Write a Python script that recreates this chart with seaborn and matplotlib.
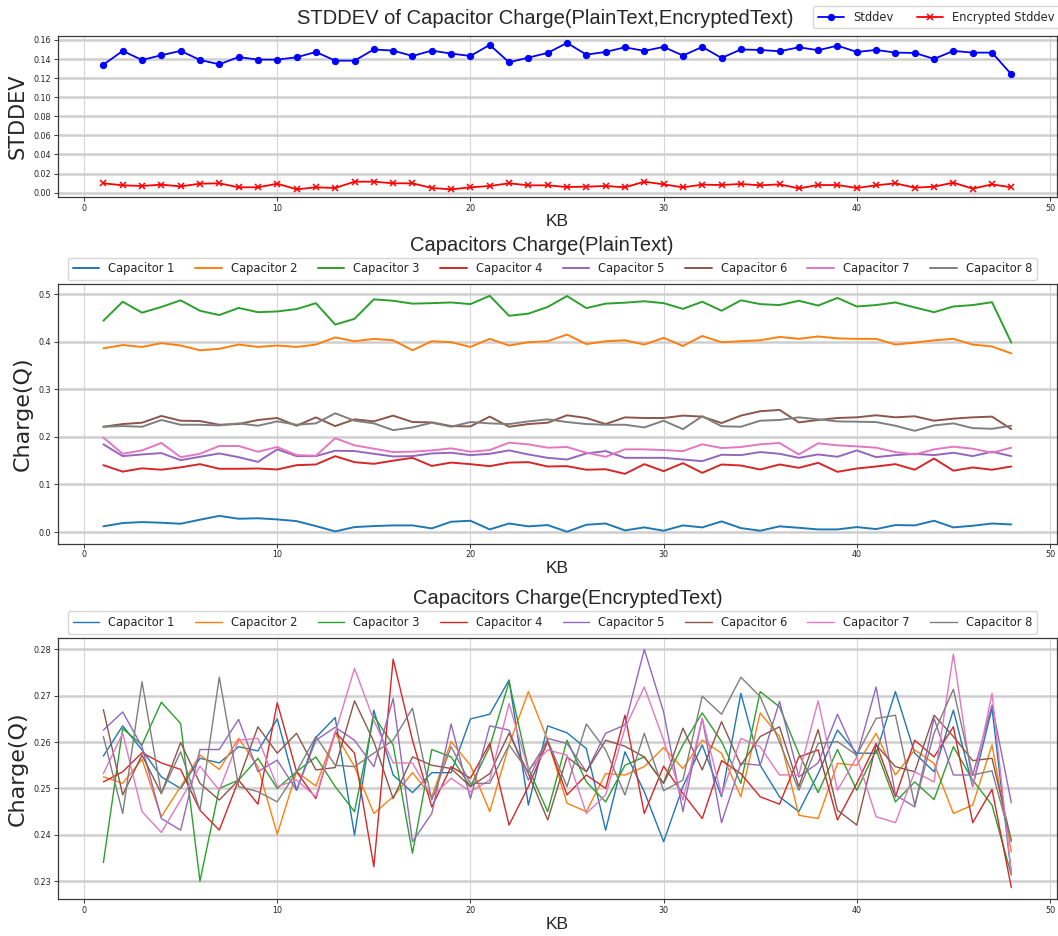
import matplotlib
matplotlib.use("Agg")
import matplotlib.pyplot as plt
import numpy as np
import pandas as pd
import seaborn as sns

# ---------------- data ----------------
kb = list(range(1, 49))

stddev_plain = [0.1341, 0.1485, 0.1390, 0.1440, 0.1485, 0.1390, 0.1345, 0.1420, 0.1394, 0.1394, 0.1418, 0.1474,
                0.1383, 0.1383, 0.1500, 0.1488, 0.1432, 0.1488, 0.1457, 0.1432, 0.1548, 0.1366, 0.1415, 0.1464,
                0.1569, 0.1446, 0.1474, 0.1523, 0.1485, 0.1527, 0.1436, 0.1527, 0.1411, 0.1500, 0.1495, 0.1481,
                0.1523, 0.1492, 0.1540, 0.1474, 0.1495, 0.1467, 0.1464, 0.1401, 0.1485, 0.1467, 0.1467, 0.1240]
stddev_enc = [0.0098, 0.0077, 0.0070, 0.0084, 0.0066, 0.0094, 0.0098, 0.0056, 0.0056, 0.0094, 0.0035, 0.0056,
              0.0049, 0.0115, 0.0115, 0.0098, 0.0098, 0.0049, 0.0035, 0.0056, 0.0070, 0.0098, 0.0077, 0.0077,
              0.0059, 0.0063, 0.0070, 0.0056, 0.0115, 0.0087, 0.0056, 0.0084, 0.0080, 0.0091, 0.0077, 0.0087,
              0.0045, 0.0080, 0.0080, 0.0049, 0.0077, 0.0098, 0.0052, 0.0063, 0.0105, 0.0042, 0.0087, 0.0056]

capacitor_names = ["Capacitor 1", "Capacitor 2", "Capacitor 3", "Capacitor 4",
                   "Capacitor 5", "Capacitor 6", "Capacitor 7", "Capacitor 8"]

plain_c1 = [0.0120, 0.0190, 0.0210, 0.0196, 0.0175, 0.0260, 0.0340, 0.0280, 0.0290, 0.0266, 0.0230, 0.0126,
            0.0014, 0.0105, 0.0126, 0.0140, 0.0140, 0.0077, 0.0217, 0.0238, 0.0056, 0.0180, 0.0120, 0.0147,
            0.0007, 0.0154, 0.0180, 0.0035, 0.0098, 0.0028, 0.0140, 0.0098, 0.0224, 0.0084, 0.0028, 0.0120,
            0.0090, 0.0056, 0.0056, 0.0105, 0.0063, 0.0147, 0.0140, 0.0238, 0.0098, 0.0133, 0.0180, 0.0160]
plain_c2 = [0.386, 0.393, 0.389, 0.397, 0.392, 0.382, 0.385, 0.394, 0.389, 0.392, 0.389, 0.394,
            0.409, 0.401, 0.406, 0.403, 0.382, 0.401, 0.399, 0.389, 0.406, 0.392, 0.399, 0.401,
            0.415, 0.395, 0.401, 0.403, 0.394, 0.408, 0.391, 0.412, 0.399, 0.401, 0.403, 0.410,
            0.406, 0.411, 0.407, 0.406, 0.406, 0.394, 0.398, 0.403, 0.406, 0.394, 0.390, 0.3755]
plain_c3 = [0.444, 0.484, 0.461, 0.473, 0.487, 0.465, 0.456, 0.471, 0.462, 0.4636, 0.4685, 0.481,
            0.436, 0.448, 0.489, 0.486, 0.480, 0.481, 0.4825, 0.479, 0.4965, 0.4545, 0.459, 0.473,
            0.496, 0.4706, 0.480, 0.482, 0.485, 0.481, 0.469, 0.484, 0.465, 0.487, 0.479, 0.477,
            0.486, 0.476, 0.492, 0.474, 0.477, 0.4825, 0.472, 0.462, 0.474, 0.477, 0.483, 0.398]
plain_c4 = [0.1406, 0.1270, 0.1340, 0.1310, 0.1360, 0.1427, 0.1330, 0.1330, 0.1336, 0.1315, 0.1406, 0.1420,
            0.1594, 0.1469, 0.1434, 0.1500, 0.1560, 0.1390, 0.1460, 0.1427, 0.1385, 0.1460, 0.1469, 0.1378,
            0.1385, 0.1310, 0.1320, 0.1224, 0.1427, 0.1280, 0.1448, 0.1245, 0.1420, 0.1399, 0.1315, 0.1420,
            0.1350, 0.1455, 0.1266, 0.1336, 0.1378, 0.1427, 0.1310, 0.1545, 0.1290, 0.1357, 0.1310, 0.1378]
plain_c5 = [0.1844, 0.1596, 0.1631, 0.1660, 0.1511, 0.1582, 0.1652, 0.1574, 0.1475, 0.1738, 0.1596, 0.1596,
            0.1709, 0.1702, 0.1645, 0.1589, 0.1596, 0.1652, 0.1667, 0.1617, 0.1645, 0.1716, 0.1631, 0.1560,
            0.1525, 0.1652, 0.1702, 0.1560, 0.1560, 0.1560, 0.1525, 0.1490, 0.1624, 0.1617, 0.1681, 0.1645,
            0.1560, 0.1631, 0.1582, 0.1716, 0.1574, 0.1617, 0.1645, 0.1617, 0.1667, 0.1596, 0.1688, 0.1596]
plain_c6 = [0.2213, 0.2270, 0.2298, 0.2440, 0.2340, 0.2333, 0.2255, 0.2270, 0.2355, 0.2397, 0.2234, 0.2410,
            0.2227, 0.2369, 0.2326, 0.2447, 0.2312, 0.2305, 0.2227, 0.2220, 0.2426, 0.2213, 0.2270, 0.2298,
            0.2454, 0.2397, 0.2270, 0.2410, 0.2397, 0.2397, 0.2447, 0.2426, 0.2291, 0.2447, 0.2539, 0.2567,
            0.2305, 0.2355, 0.2397, 0.2411, 0.2454, 0.2411, 0.2433, 0.2340, 0.2383, 0.2411, 0.2426, 0.2163]
plain_c7 = [0.1986, 0.1645, 0.1716, 0.1872, 0.1574, 0.1645, 0.1809, 0.1809, 0.1688, 0.1787, 0.1617, 0.1603,
            0.1972, 0.1823, 0.1752, 0.1681, 0.1690, 0.1716, 0.1759, 0.1688, 0.1723, 0.1879, 0.1844, 0.1773,
            0.1787, 0.1667, 0.1582, 0.1738, 0.1738, 0.1723, 0.1702, 0.1844, 0.1766, 0.1787, 0.1844, 0.1872,
            0.1631, 0.1865, 0.1823, 0.1801, 0.1773, 0.1681, 0.1631, 0.1738, 0.1794, 0.1752, 0.1667, 0.1773]
plain_c8 = [0.2213, 0.2227, 0.2213, 0.2355, 0.2255, 0.2255, 0.2241, 0.2284, 0.2234, 0.2326, 0.2255, 0.2284,
            0.2496, 0.2340, 0.2284, 0.2142, 0.2199, 0.2298, 0.2213, 0.2312, 0.2284, 0.2270, 0.2326, 0.2369,
            0.2312, 0.2270, 0.2255, 0.2255, 0.2199, 0.2340, 0.2163, 0.2433, 0.2224, 0.2213, 0.2340, 0.2355,
            0.2411, 0.2369, 0.2326, 0.2319, 0.2312, 0.2234, 0.2128, 0.2241, 0.2284, 0.2184, 0.2170, 0.2234]

enc_c1 = [0.2570, 0.2635, 0.2583, 0.2525, 0.2500, 0.2565, 0.2555, 0.2590, 0.2581, 0.2650, 0.2496, 0.2610,
          0.2653, 0.2399, 0.2669, 0.2529, 0.2491, 0.2534, 0.2534, 0.2650, 0.2660, 0.2734, 0.2464, 0.2635,
          0.2620, 0.2586, 0.2410, 0.2579, 0.2493, 0.2385, 0.2504, 0.2594, 0.2482, 0.2705, 0.2550, 0.2482,
          0.2450, 0.2532, 0.2626, 0.2576, 0.2576, 0.2709, 0.2576, 0.2536, 0.2669, 0.2504, 0.2673, 0.2316]
enc_c2 = [0.2525, 0.2511, 0.2563, 0.2439, 0.2504, 0.2572, 0.2541, 0.2608, 0.2547, 0.2401, 0.2536, 0.2505,
          0.2619, 0.2547, 0.2446, 0.2482, 0.2534, 0.2482, 0.2601, 0.2550, 0.2450, 0.2594, 0.2709, 0.2604,
          0.2468, 0.2450, 0.2532, 0.2529, 0.2547, 0.2588, 0.2543, 0.2604, 0.2576, 0.2482, 0.2663, 0.2612,
          0.2442, 0.2435, 0.2554, 0.2550, 0.2619, 0.2529, 0.2583, 0.2554, 0.2446, 0.2464, 0.2594, 0.2363]
enc_c3 = [0.2340, 0.2629, 0.2594, 0.2686, 0.2640, 0.2300, 0.2500, 0.2518, 0.2565, 0.2500, 0.2536, 0.2568,
          0.2504, 0.2450, 0.2656, 0.2594, 0.2360, 0.2584, 0.2568, 0.2504, 0.2590, 0.2730, 0.2543, 0.2450,
          0.2604, 0.2514, 0.2471, 0.2550, 0.2568, 0.2511, 0.2594, 0.2663, 0.2601, 0.2511, 0.2709, 0.2676,
          0.2575, 0.2491, 0.2584, 0.2496, 0.2583, 0.2471, 0.2514, 0.2476, 0.2590, 0.2518, 0.2464, 0.2313]
enc_c4 = [0.2514, 0.2536, 0.2577, 0.2555, 0.2541, 0.2453, 0.2410, 0.2518, 0.2466, 0.2685, 0.2536, 0.2478,
          0.2622, 0.2576, 0.2331, 0.2779, 0.2604, 0.2460, 0.2547, 0.2522, 0.2597, 0.2421, 0.2504, 0.2601,
          0.2486, 0.2529, 0.2500, 0.2658, 0.2446, 0.2548, 0.2489, 0.2435, 0.2560, 0.2532, 0.2482, 0.2466,
          0.2568, 0.2583, 0.2432, 0.2511, 0.2597, 0.2482, 0.2604, 0.2568, 0.2633, 0.2426, 0.2498, 0.2286]
enc_c5 = [0.2626, 0.2665, 0.2590, 0.2435, 0.2410, 0.2584, 0.2584, 0.2649, 0.2536, 0.2561, 0.2496, 0.2604,
          0.2632, 0.2604, 0.2547, 0.2694, 0.2385, 0.2446, 0.2639, 0.2478, 0.2635, 0.2626, 0.2518, 0.2608,
          0.2597, 0.2536, 0.2619, 0.2637, 0.2800, 0.2665, 0.2450, 0.2651, 0.2426, 0.2554, 0.2550, 0.2688,
          0.2525, 0.2555, 0.2660, 0.2568, 0.2719, 0.2486, 0.2460, 0.2651, 0.2529, 0.2529, 0.2680, 0.2469]
enc_c6 = [0.2670, 0.2486, 0.2572, 0.2489, 0.2599, 0.2511, 0.2475, 0.2518, 0.2633, 0.2576, 0.2619, 0.2540,
          0.2545, 0.2689, 0.2601, 0.2478, 0.2568, 0.2550, 0.2543, 0.2504, 0.2532, 0.2619, 0.2532, 0.2432,
          0.2568, 0.2536, 0.2604, 0.2591, 0.2568, 0.2511, 0.2630, 0.2540, 0.2644, 0.2550, 0.2612, 0.2633,
          0.2504, 0.2627, 0.2453, 0.2421, 0.2594, 0.2547, 0.2536, 0.2658, 0.2612, 0.2560, 0.2565, 0.2388]
enc_c7 = [0.2532, 0.2619, 0.2450, 0.2405, 0.2475, 0.2548, 0.2496, 0.2604, 0.2608, 0.2504, 0.2518, 0.2482,
          0.2620, 0.2759, 0.2647, 0.2555, 0.2555, 0.2482, 0.2522, 0.2493, 0.2518, 0.2683, 0.2540, 0.2583,
          0.2572, 0.2446, 0.2486, 0.2630, 0.2719, 0.2604, 0.2475, 0.2651, 0.2486, 0.2608, 0.2590, 0.2529,
          0.2529, 0.2689, 0.2496, 0.2568, 0.2439, 0.2426, 0.2536, 0.2514, 0.2790, 0.2504, 0.2705, 0.2316]
enc_c8 = [0.2612, 0.2446, 0.2730, 0.2489, 0.2579, 0.2453, 0.2740, 0.2504, 0.2493, 0.2471, 0.2536, 0.2612,
          0.2550, 0.2547, 0.2576, 0.2604, 0.2673, 0.2475, 0.2590, 0.2511, 0.2511, 0.2594, 0.2536, 0.2604,
          0.2504, 0.2639, 0.2583, 0.2486, 0.2619, 0.2495, 0.2518, 0.2699, 0.2660, 0.2740, 0.2698, 0.2600,
          0.2496, 0.2597, 0.2601, 0.2572, 0.2651, 0.2658, 0.2464, 0.2619, 0.2714, 0.2529, 0.2538, 0.2385]

plain_series = [plain_c1, plain_c2, plain_c3, plain_c4, plain_c5, plain_c6, plain_c7, plain_c8]
enc_series = [enc_c1, enc_c2, enc_c3, enc_c4, enc_c5, enc_c6, enc_c7, enc_c8]


def long_frame(series):
    rows = []
    for name, vals in zip(capacitor_names, series):
        for k, v in zip(kb, vals):
            rows.append({"KB": k, "Charge": v, "Capacitor": name})
    return pd.DataFrame(rows)


df_plain = long_frame(plain_series)
df_enc = long_frame(enc_series)

# ---------------- style ----------------
sns.set_style("whitegrid")
plt.rcParams["font.family"] = ["DejaVu Sans"]
TITLE_FONT = ["Liberation Sans", "DejaVu Sans"]
LEG_PROP = {"family": "DejaVu Sans", "size": 8.3}

fig = plt.figure(figsize=(10.58, 9.36), dpi=100)
ax1 = fig.add_axes([0.0548, 0.7899, 0.944, 0.1721])
ax2 = fig.add_axes([0.0548, 0.4193, 0.944, 0.2773])
ax3 = fig.add_axes([0.0548, 0.0390, 0.944, 0.2799])


def style_axes(ax):
    ax.set_facecolor("white")
    ax.grid(True, axis="y", color="#cfcfcf", linewidth=1.8)
    ax.grid(True, axis="x", color="#d6d6d6", linewidth=0.8)
    for s in ax.spines.values():
        s.set_visible(True)
        s.set_color("#3a3a3a")
        s.set_linewidth(0.9)
    ax.tick_params(axis="both", which="major", labelsize=5.8, length=3, width=0.7,
                   color="#3a3a3a", labelcolor="#222222", bottom=True, left=True, pad=2)
    ax.set_xticks([0, 10, 20, 30, 40, 50])
    ax.set_axisbelow(True)


# ---------------- top: stddev ----------------
sns.lineplot(x=kb, y=stddev_plain, ax=ax1, color="blue", marker="o", markersize=4.5,
             markeredgecolor="blue", linewidth=1.3, label="Stddev")
sns.lineplot(x=kb, y=stddev_enc, ax=ax1, color="red", marker="x", markersize=4.5,
             markeredgewidth=1.1, markeredgecolor="red", linewidth=1.3, label="Encrypted Stddev")
style_axes(ax1)
ax1.set_yticks(np.arange(0, 0.161, 0.02))
ax1.yaxis.set_major_formatter(matplotlib.ticker.FormatStrFormatter("%.2f"))
ax1.set_xlabel("KB", fontsize=12.5, family=TITLE_FONT, labelpad=1)
ax1.set_ylabel("STDDEV", fontsize=15, labelpad=4)
ax1.set_title("STDDEV of Capacitor Charge(PlainText,EncryptedText)", fontsize=14.5,
              family=TITLE_FONT, pad=8, x=0.4875)
h, l = ax1.get_legend_handles_labels()
ax1.legend(h, l, ncol=2, loc="lower left", bbox_to_anchor=(0.756, 1.045), borderaxespad=0,
           prop=LEG_PROP, frameon=True, edgecolor="#cccccc", handlelength=2.3,
           columnspacing=2.0)

# ---------------- middle: plaintext ----------------
sns.lineplot(data=df_plain, x="KB", y="Charge", hue="Capacitor", palette="tab10",
             linewidth=1.4, errorbar=None, ax=ax2)
style_axes(ax2)
ax2.set_yticks([0.0, 0.1, 0.2, 0.3, 0.4, 0.5])
ax2.set_xlabel("KB", fontsize=12.5, family=TITLE_FONT, labelpad=1)
ax2.set_ylabel("Charge(Q)", fontsize=16, labelpad=4)
ax2.set_title("Capacitors Charge(PlainText)", fontsize=14.5, family=TITLE_FONT, pad=24, x=0.4845)
h, l = ax2.get_legend_handles_labels()
ax2.legend(h, l, ncol=8, loc="lower left", bbox_to_anchor=(0.01, 1.015, 0.97, 0.07),
           mode="expand", borderaxespad=0, prop=LEG_PROP, frameon=True, edgecolor="#cccccc",
           handlelength=2.3)

# ---------------- bottom: encrypted ----------------
sns.lineplot(data=df_enc, x="KB", y="Charge", hue="Capacitor", palette="tab10",
             linewidth=1.0, errorbar=None, ax=ax3)
style_axes(ax3)
ax3.set_yticks([0.23, 0.24, 0.25, 0.26, 0.27, 0.28])
ax3.set_xlabel("KB", fontsize=12.5, family=TITLE_FONT, labelpad=1)
ax3.set_ylabel("Charge(Q)", fontsize=16, labelpad=4)
ax3.set_title("Capacitors Charge(EncryptedText)", fontsize=14.5, family=TITLE_FONT, pad=24, x=0.51)
h, l = ax3.get_legend_handles_labels()
ax3.legend(h, l, ncol=8, loc="lower left", bbox_to_anchor=(0.01, 1.015, 0.97, 0.07),
           mode="expand", borderaxespad=0, prop=LEG_PROP, frameon=True, edgecolor="#cccccc",
           handlelength=2.3)

fig.savefig("out.png", dpi=100)
